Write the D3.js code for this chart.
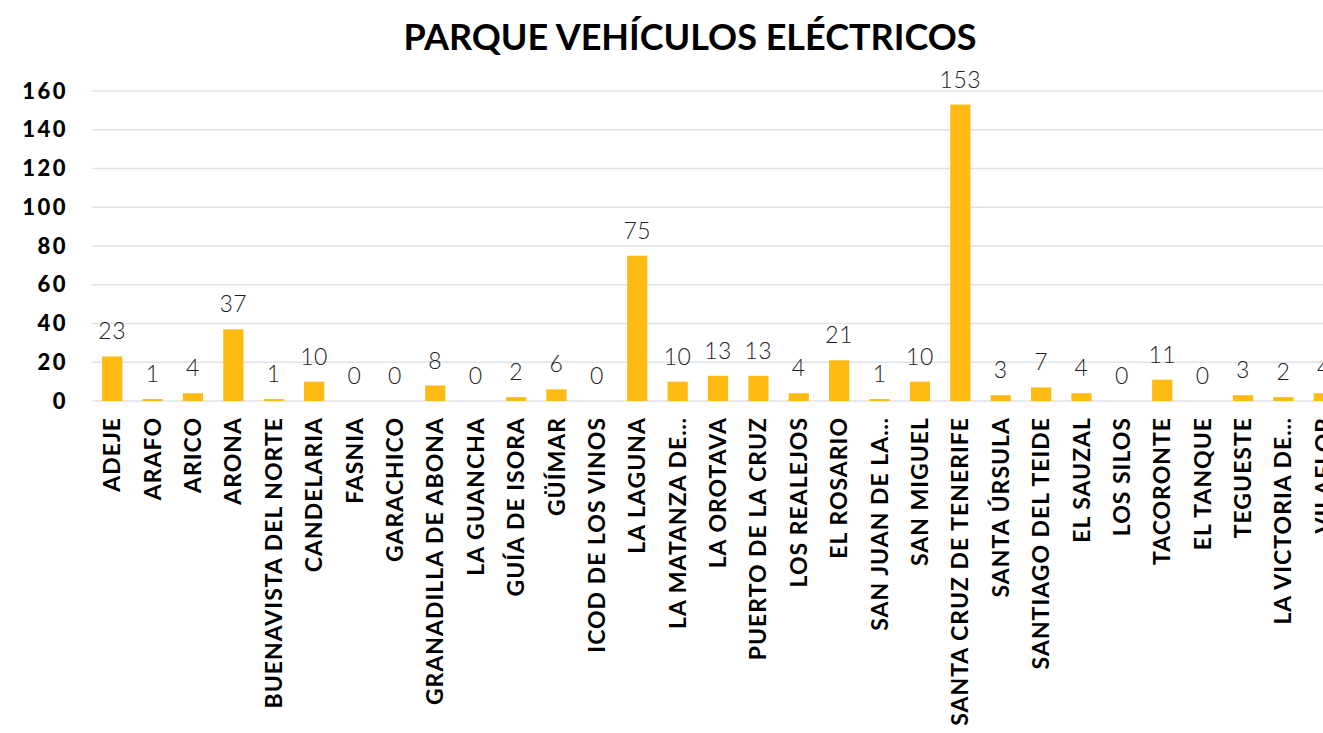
<!DOCTYPE html>
<html>
<head>
<meta charset="utf-8">
<script src="https://cdn.jsdelivr.net/npm/d3@7"></script>
<style>
  body { margin: 0; background: #fff; overflow: hidden; }
  svg { display: block; font-family: Lato, "Open Sans", sans-serif; }
</style>
</head>
<body>
<div id="chart"></div>
<script>
// Municipios y número de vehículos eléctricos
const municipios = [
  "ADEJE", "ARAFO", "ARICO", "ARONA", "BUENAVISTA DEL NORTE", "CANDELARIA",
  "FASNIA", "GARACHICO", "GRANADILLA DE ABONA", "LA GUANCHA", "GUÍA DE ISORA",
  "GÜÍMAR", "ICOD DE LOS VINOS", "LA LAGUNA", "LA MATANZA DE…", "LA OROTAVA",
  "PUERTO DE LA CRUZ", "LOS REALEJOS", "EL ROSARIO", "SAN JUAN DE LA…",
  "SAN MIGUEL", "SANTA CRUZ DE TENERIFE", "SANTA ÚRSULA", "SANTIAGO DEL TEIDE",
  "EL SAUZAL", "LOS SILOS", "TACORONTE", "EL TANQUE", "TEGUESTE",
  "LA VICTORIA DE…", "VILAFLOR"
];
const vehiculos = [
  23, 1, 4, 37, 1, 10,
  0, 0, 8, 0, 2,
  6, 0, 75, 10, 13,
  13, 4, 21, 1,
  10, 153, 3, 7,
  4, 0, 11, 0, 3,
  2, 4
];
const yTicks = [0, 20, 40, 60, 80, 100, 120, 140, 160];
const titulo = "PARQUE VEHÍCULOS ELÉCTRICOS";

const width = 1323, height = 733;
const plot = {left: 92, right: 1344, top: 91, bottom: 401};

const svg = d3.select("#chart").append("svg")
  .attr("width", width)
  .attr("height", height);

const x = d3.scaleBand()
  .domain(municipios)
  .range([plot.left, plot.right])
  .paddingInner(0.5)
  .paddingOuter(0.25);

const y = d3.scaleLinear()
  .domain([0, 160])
  .range([plot.bottom, plot.top]);

// Title
svg.append("text")
  .attr("x", 690)
  .attr("y", 50)
  .attr("text-anchor", "middle")
  .attr("font-size", "36px")
  .attr("font-weight", "bold")
  .attr("fill", "#000")
  .text(titulo);

// Gridlines
svg.append("g")
  .selectAll("line")
  .data(yTicks)
  .enter()
  .append("line")
  .attr("x1", plot.left)
  .attr("x2", plot.right)
  .attr("y1", d => y(d))
  .attr("y2", d => y(d))
  .attr("stroke", "#dfe2e8")
  .attr("stroke-width", 1.5);

// Y axis labels
const yAxis = svg.append("g")
  .attr("transform", `translate(${plot.left},0)`)
  .call(d3.axisLeft(y).tickValues(yTicks).tickSize(0).tickPadding(24));
yAxis.select(".domain").remove();
yAxis.selectAll("text")
  .attr("font-family", "Lato, sans-serif")
  .attr("font-size", "22px")
  .attr("font-weight", "900")
  .attr("letter-spacing", "2.5px")
  .attr("fill", "#000");

// Bars
svg.append("g")
  .selectAll("rect")
  .data(vehiculos)
  .enter()
  .append("rect")
  .attr("x", (d, i) => x(municipios[i]))
  .attr("y", d => y(d))
  .attr("width", x.bandwidth())
  .attr("height", d => y(0) - y(d))
  .attr("fill", "#ffba14");

// Value labels
svg.append("g")
  .selectAll("text")
  .data(vehiculos)
  .enter()
  .append("text")
  .attr("x", (d, i) => x(municipios[i]) + x.bandwidth() / 2)
  .attr("y", d => y(d) - 17)
  .attr("text-anchor", "middle")
  .attr("font-size", "23px")
  .attr("font-weight", "300")
  .attr("letter-spacing", "0.5px")
  .attr("fill", "#222")
  .text(d => d);

// X axis labels (rotated)
const xAxis = svg.append("g")
  .attr("transform", `translate(0,${plot.bottom})`)
  .call(d3.axisBottom(x).tickSize(0).tickPadding(0));
xAxis.select(".domain").remove();
xAxis.selectAll("text")
  .attr("font-family", "Lato, sans-serif")
  .attr("font-size", "23px")
  .attr("font-weight", "bold")
  .attr("letter-spacing", "1px")
  .attr("fill", "#000")
  .attr("text-anchor", "end")
  .attr("dy", "0.35em")
  .attr("transform", "translate(0,16) rotate(-90)")
  .attr("x", 0)
  .attr("y", 0);
</script>
</body>
</html>
